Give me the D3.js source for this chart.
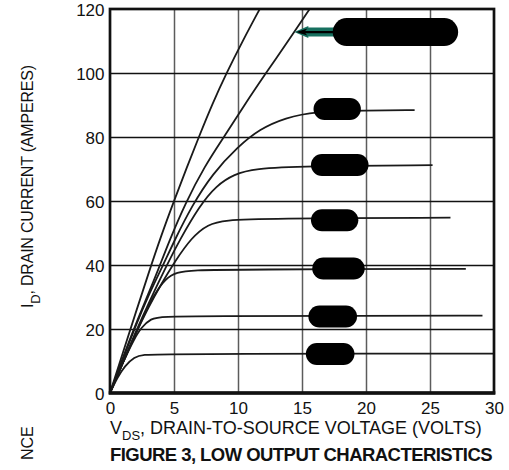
<!DOCTYPE html>
<html>
<head>
<meta charset="utf-8">
<script src="https://cdn.jsdelivr.net/npm/d3@7"></script>
<style>
    body { margin: 0; background: #fff; }
    svg text { font-family: "Liberation Sans", Arial, Helvetica, sans-serif; fill: #111; }
    .grid-v line { stroke: #5c5c5c; stroke-width: 1.5; }
    .grid-h line { stroke: #111; stroke-width: 1.3; }
    .curve { fill: none; stroke: #1a1a1a; stroke-width: 1.8; }
</style>
</head>
<body>
<svg id="vis_svg" width="509" height="470"></svg>
<script>
// tick values
let vdsTicks = [0, 5, 10, 15, 20, 25, 30];
let idTicks = [0, 20, 40, 60, 80, 100, 120];

// output curves, [V_DS, I_D] (one per gate drive)
let curve12 = [[0, 0], [0.6, 5], [1.15, 8.4], [1.9, 11.3], [2.6, 12], [4, 12.1], [10, 12.2], [20, 12.3], [30, 12.3]];
let curve24 = [[0, 0], [1, 9.5], [1.9, 17], [2.45, 20.5], [3.2, 23.3], [4, 23.9], [8, 24], [18, 24.1], [29.1, 24.2]];
let curve38 = [[0, 0], [1, 9.5], [2, 18.5], [2.8, 25.5], [3.5, 31], [4.3, 35.6], [5.2, 37.8], [6.5, 38.4], [10, 38.6], [27.8, 38.8]];
let curve54 = [[0, 0], [1, 9.5], [2, 18.5], [3, 26.8], [4, 34], [5.05, 41], [6.35, 48.5], [7.66, 52.8], [9, 54], [12, 54.5], [26.6, 54.8]];
let curve71 = [[0, 0], [1, 9.5], [2, 19], [3, 28], [4.5, 40.5], [5.4, 47.5], [7, 58.5], [8.3, 64.8], [9.7, 68.4], [11.3, 70.1], [15, 70.9], [25.2, 71.2]];
let curve88 = [[0, 0], [1, 10.5], [2, 21], [3, 30.5], [4.1, 39.5], [5.05, 47.8], [6.4, 58.5], [8, 68.5], [10, 77], [11.7, 82.5], [13.7, 86], [16, 88], [20, 88.3], [23.8, 88.4]];
let curveB = [[0, 0], [1, 11], [2, 21.5], [3, 31], [3.75, 38.4], [4.66, 47.8], [5.85, 59], [7.4, 71], [9, 80.6], [10.5, 90], [12.1, 99.5], [14.4, 112.8], [15.6, 120]];
let curveA = [[0, 0], [1, 12.5], [2, 25], [3, 37.3], [4, 49.2], [5, 60], [6, 70.5], [7, 80.6], [8, 90.4], [9.1, 100], [10.4, 110.3], [11.7, 120]];
let allCurves = [curve12, curve24, curve38, curve54, curve71, curve88, curveB, curveA];

// blacked-out curve labels: [V start, V end, I_D centre]
let labelBoxes = [[15.3, 19.1, 12.2], [15.5, 19.3, 23.9], [15.8, 19.9, 38.9], [15.7, 19.4, 54], [15.7, 20.2, 71.25], [15.9, 19.6, 88.75]];
let topLabel = [17.4, 27.2, 112.8];
let arrowTip = [14.4, 112.8];

let svg, x, y;

function drawVis() {
    svg = d3.select('svg#vis_svg');

    x = d3.scaleLinear().domain([0, 30]).range([110, 494]);
    y = d3.scaleLinear().domain([0, 120]).range([393, 9]);
    let w = x(30) - x(0);
    let h = y(0) - y(120);

    // grid
    svg.append('g')
        .attr('class', 'grid-v')
        .attr('transform', translate(0, y(0)))
        .call(d3.axisBottom(x).tickValues([5, 10, 15, 20, 25]).tickSize(-h).tickFormat(''))
        .call(g => g.select('.domain').remove());
    svg.append('g')
        .attr('class', 'grid-h')
        .attr('transform', translate(x(0), 0))
        .call(d3.axisLeft(y).tickValues([20, 40, 60, 80, 100]).tickSize(-w).tickFormat(''))
        .call(g => g.select('.domain').remove());

    // curves
    svg.append('clipPath').attr('id', 'plotclip')
        .append('rect').attr('x', x(0)).attr('y', y(120)).attr('width', w).attr('height', h);

    let line = d3.line()
        .curve(d3.curveBasis)
        .x(d => x(d[0]))
        .y(d => y(d[1]));

    svg.append('g')
        .attr('clip-path', 'url(#plotclip)')
        .selectAll('path')
        .data(allCurves)
        .enter()
        .append('path')
        .attr('class', 'curve')
        .attr('d', line);

    // label boxes
    let boxH = 22;
    svg.append('g')
        .selectAll('rect')
        .data(labelBoxes)
        .enter()
        .append('rect')
        .attr('x', d => x(d[0]))
        .attr('y', d => y(d[2]) - boxH / 2)
        .attr('width', d => x(d[1]) - x(d[0]))
        .attr('height', boxH)
        .attr('rx', boxH / 2)
        .style('fill', '#000');

    // arrow to the top curve
    let tx = x(arrowTip[0]), ty = y(arrowTip[1]);
    let ex = x(topLabel[0]) + 4;
    let hl = 14;
    svg.append('path')
        .attr('d', `M${tx},${ty} L${tx + hl},${ty - 6} L${tx + hl},${ty - 4.5} L${ex},${ty - 4.5} L${ex},${ty + 4.5} L${tx + hl},${ty + 4.5} L${tx + hl},${ty + 6} Z`)
        .style('fill', '#17705f');
    svg.append('line')
        .attr('x1', tx + 6).attr('x2', ex).attr('y1', ty).attr('y2', ty)
        .style('stroke', '#000').style('stroke-width', 2.2);
    svg.append('path')
        .attr('d', `M${tx + 2},${ty} L${tx + 13},${ty - 3.5} L${tx + 10},${ty} L${tx + 13},${ty + 3.5} Z`)
        .style('fill', '#000');

    let topH = 28;
    svg.append('rect')
        .attr('x', x(topLabel[0]))
        .attr('y', y(topLabel[2]) - topH / 2)
        .attr('width', x(topLabel[1]) - x(topLabel[0]))
        .attr('height', topH)
        .attr('rx', topH / 2)
        .style('fill', '#000');

    // frame
    svg.append('rect')
        .attr('x', x(0)).attr('y', y(120)).attr('width', w).attr('height', h)
        .style('fill', 'none').style('stroke', '#111').style('stroke-width', 2.7);
    svg.append('line')
        .attr('x1', x(0) - 1.3).attr('x2', x(30) + 1.3).attr('y1', y(0)).attr('y2', y(0))
        .style('stroke', '#111').style('stroke-width', 3.5);

    // tick labels
    let xAxis = svg.append('g')
        .attr('transform', translate(0, y(0)))
        .call(d3.axisBottom(x).tickValues(vdsTicks).tickSize(0).tickPadding(9));
    xAxis.select('.domain').remove();
    xAxis.selectAll('text').style('font-size', '17px').style('fill', '#111');

    let yAxis = svg.append('g')
        .attr('transform', translate(x(0), 0))
        .call(d3.axisLeft(y).tickValues(idTicks).tickSize(0).tickPadding(5.5));
    yAxis.select('.domain').remove();
    yAxis.selectAll('text').style('font-size', '17px').style('fill', '#111').attr('dy', '0.41em');
    svg.selectAll('.tick text').attr('font-family', null);

    // axis titles
    let xt = svg.append('text')
        .attr('x', 110).attr('y', 434)
        .style('font-size', '18px');
    xt.append('tspan').text('V');
    xt.append('tspan').attr('dy', 6).style('font-size', '13px').text('DS');
    xt.append('tspan').attr('dy', -6).text(', DRAIN-TO-SOURCE VOLTAGE (VOLTS)');

    let yt = svg.append('text')
        .attr('transform', 'translate(33,308) rotate(-90)')
        .style('font-size', '16px')
        .style('letter-spacing', '-0.2px');
    yt.append('tspan').text('I');
    yt.append('tspan').attr('dy', 7).style('font-size', '13px').text('D');
    yt.append('tspan').attr('dy', -7).text(', DRAIN CURRENT (AMPERES)');

    svg.append('text')
        .attr('transform', 'translate(33,460) rotate(-90)')
        .style('font-size', '16px')
        .text('NCE');

    svg.append('text')
        .attr('x', 110).attr('y', 461)
        .style('font-size', '18.5px')
        .style('font-weight', 'bold')
        .style('letter-spacing', '-0.55px')
        .text('FIGURE 3, LOW OUTPUT CHARACTERISTICS');
}

function translate(x, y) {
    return 'translate(' + String(x) + ',' + String(y) + ')';
}

drawVis();
</script>
</body>
</html>
